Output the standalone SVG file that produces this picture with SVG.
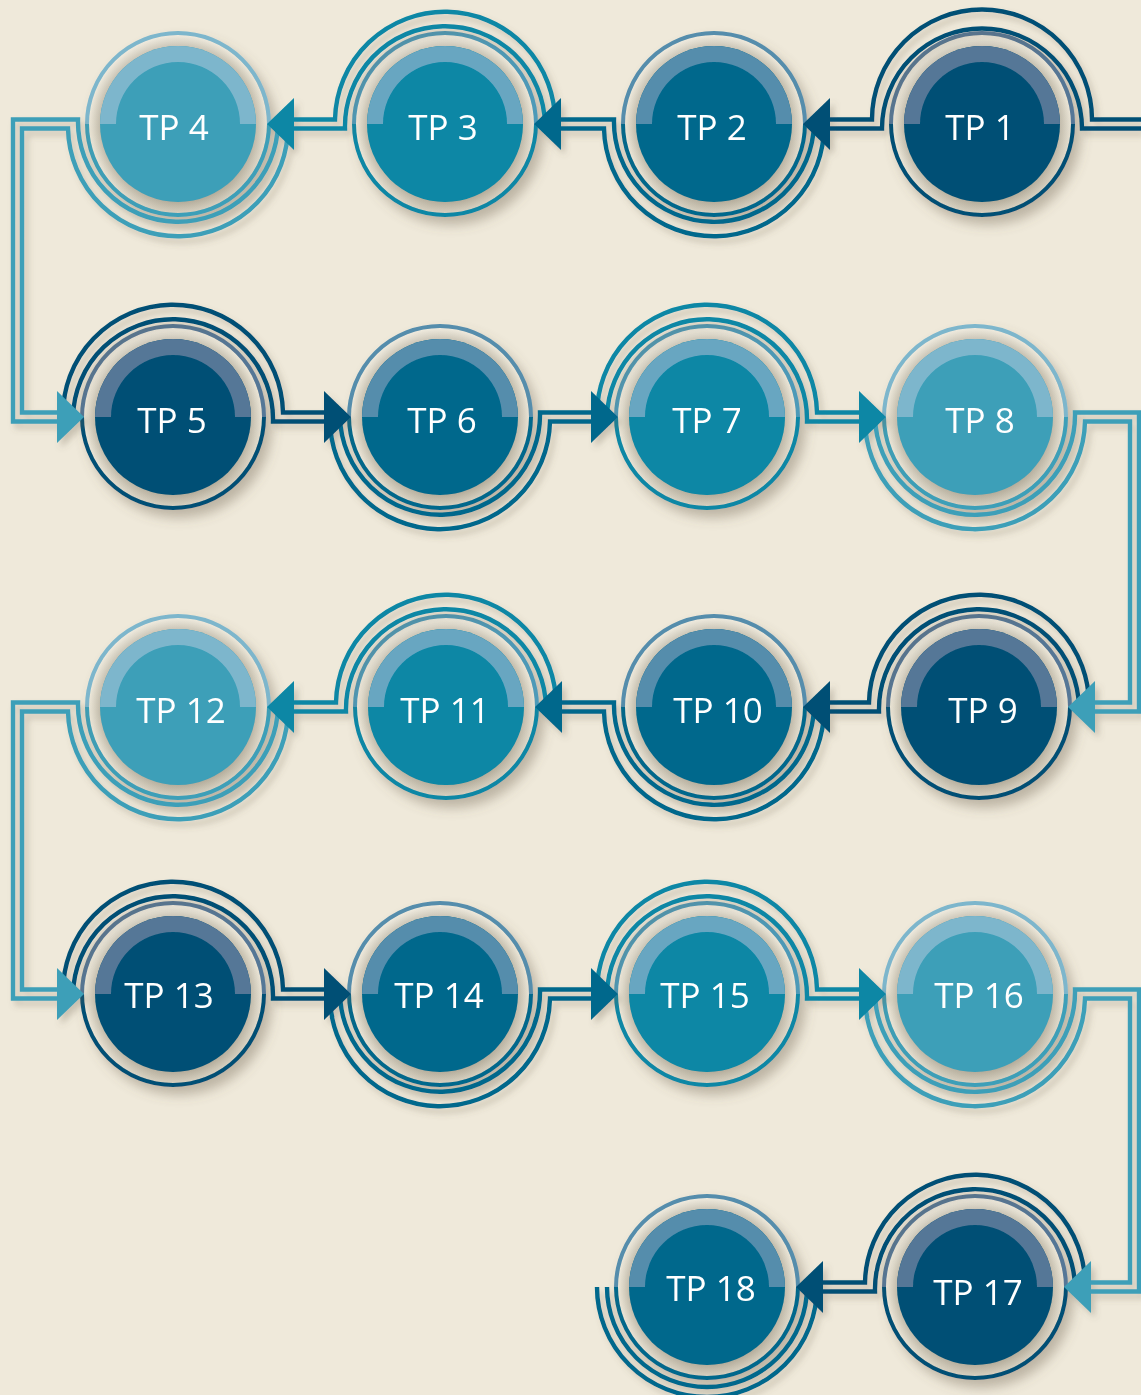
<svg xmlns="http://www.w3.org/2000/svg" width="1141" height="1395" viewBox="0 0 1141 1395">
<defs>
<style>
.node{filter:url(#nsh)}
.node text{font-family:"Open Sans","Noto Sans","Liberation Sans",sans-serif;font-size:35px;fill:#ffffff;text-anchor:middle}
.ring{fill:none;stroke-width:4}
.m1{fill:#005075}.m2{fill:#00688c}.m3{fill:#0887a5}.m4{fill:#3c9fb8}
.b1{fill:#557797}.b2{fill:#548dac}.b3{fill:#67a6c1}.b4{fill:#7db6cc}
.r1{stroke:url(#g1)}.r2{stroke:url(#g2)}.r3{stroke:url(#g3)}.r4{stroke:url(#g4)}
.pipe path{fill:none;stroke-width:4.4}
.s1{stroke:#005075}.s2{stroke:#00688c}.s3{stroke:#0887a5}.s4{stroke:#3c9fb8}
.a1{fill:#005075}.a2{fill:#00688c}.a3{fill:#0887a5}.a4{fill:#3c9fb8}
</style>
<filter id="nsh" x="-30%" y="-30%" width="170%" height="170%">
<feDropShadow dx="6" dy="8" stdDeviation="6" flood-color="#6b604c" flood-opacity="0.38"/>
</filter>
<filter id="csh" x="-5%" y="-5%" width="115%" height="115%">
<feDropShadow dx="4" dy="5" stdDeviation="3" flood-color="#6b604c" flood-opacity="0.28"/>
</filter>
<radialGradient id="rim" cx="0.5" cy="0.5" r="0.5">
<stop offset="0.86" stop-color="#bdb6a5"/>
<stop offset="0.94" stop-color="#d8d2c2"/>
<stop offset="1" stop-color="#ece6d7"/>
</radialGradient>
<linearGradient id="shade" x1="0" y1="0" x2="0.3" y2="1">
<stop offset="0" stop-color="#ffffff" stop-opacity="0.25"/>
<stop offset="0.5" stop-color="#ffffff" stop-opacity="0"/>
<stop offset="1" stop-color="#7d735f" stop-opacity="0.2"/>
</linearGradient>
<linearGradient id="g1" x1="0" y1="0" x2="0" y2="1"><stop offset="0.5" stop-color="#557797"/><stop offset="0.5" stop-color="#005075"/></linearGradient>
<linearGradient id="g2" x1="0" y1="0" x2="0" y2="1"><stop offset="0.5" stop-color="#548dac"/><stop offset="0.5" stop-color="#00688c"/></linearGradient>
<linearGradient id="g3" x1="0" y1="0" x2="0" y2="1"><stop offset="0.5" stop-color="#4d9ab8"/><stop offset="0.5" stop-color="#0887a5"/></linearGradient>
<linearGradient id="g4" x1="0" y1="0" x2="0" y2="1"><stop offset="0.5" stop-color="#7db6cc"/><stop offset="0.5" stop-color="#3c9fb8"/></linearGradient>
<g id="body1"><circle r="89" fill="url(#rim)"/><circle r="89" fill="url(#shade)"/><circle r="91" class="ring r1"/><circle r="78" class="m1"/><path d="M-78,0 A78,78 0 0 1 78,0 H62 A62,62 0 0 0 -62,0 Z" class="b1"/></g>
<g id="body2"><circle r="89" fill="url(#rim)"/><circle r="89" fill="url(#shade)"/><circle r="91" class="ring r2"/><circle r="78" class="m2"/><path d="M-78,0 A78,78 0 0 1 78,0 H62 A62,62 0 0 0 -62,0 Z" class="b2"/></g>
<g id="body3"><circle r="89" fill="url(#rim)"/><circle r="89" fill="url(#shade)"/><circle r="91" class="ring r3"/><circle r="78" class="m3"/><path d="M-78,0 A78,78 0 0 1 78,0 H62 A62,62 0 0 0 -62,0 Z" class="b3"/></g>
<g id="body4"><circle r="89" fill="url(#rim)"/><circle r="89" fill="url(#shade)"/><circle r="91" class="ring r4"/><circle r="78" class="m4"/><path d="M-78,0 A78,78 0 0 1 78,0 H62 A62,62 0 0 0 -62,0 Z" class="b4"/></g>
</defs>
<rect width="1141" height="1395" fill="#efe9da"/>

<g id="nodes">
<g id="tp1" class="node" transform="translate(982,124)"><use href="#body1"/><text x="-2" y="16">TP 1</text></g>
<g id="tp2" class="node" transform="translate(714,124)"><use href="#body2"/><text x="-2" y="16">TP 2</text></g>
<g id="tp3" class="node" transform="translate(445,124)"><use href="#body3"/><text x="-2" y="16">TP 3</text></g>
<g id="tp4" class="node" transform="translate(178,124)"><use href="#body4"/><text x="-4" y="16">TP 4</text></g>
<g id="tp5" class="node" transform="translate(173,417)"><use href="#body1"/><text x="-1" y="16">TP 5</text></g>
<g id="tp6" class="node" transform="translate(440,417)"><use href="#body2"/><text x="2" y="16">TP 6</text></g>
<g id="tp7" class="node" transform="translate(707,417)"><use href="#body3"/><text x="0" y="16">TP 7</text></g>
<g id="tp8" class="node" transform="translate(975,417)"><use href="#body4"/><text x="5" y="16">TP 8</text></g>
<g id="tp9" class="node" transform="translate(979,707)"><use href="#body1"/><text x="4" y="16">TP 9</text></g>
<g id="tp10" class="node" transform="translate(714,707)"><use href="#body2"/><text x="4" y="16">TP 10</text></g>
<g id="tp11" class="node" transform="translate(446,707)"><use href="#body3"/><text x="-1" y="16">TP 11</text></g>
<g id="tp12" class="node" transform="translate(178,707)"><use href="#body4"/><text x="3" y="16">TP 12</text></g>
<g id="tp13" class="node" transform="translate(173,994)"><use href="#body1"/><text x="-4" y="14">TP 13</text></g>
<g id="tp14" class="node" transform="translate(440,994)"><use href="#body2"/><text x="-1" y="14">TP 14</text></g>
<g id="tp15" class="node" transform="translate(707,994)"><use href="#body3"/><text x="-2" y="14">TP 15</text></g>
<g id="tp16" class="node" transform="translate(975,994)"><use href="#body4"/><text x="4" y="14">TP 16</text></g>
<g id="tp17" class="node" transform="translate(975,1287)"><use href="#body1"/><text x="3" y="18">TP 17</text></g>
<g id="tp18" class="node" transform="translate(707,1287)"><use href="#body2"/><text x="4" y="14">TP 18</text></g>
</g>

<g id="connectors" filter="url(#csh)">
<g class="pipe">
<path class="s1" d="M1141,119.5 H1092 A110,110 0 0 0 872,119.5 H826"/>
<path class="s1" d="M1141,128.5 H1082 A100,100 0 1 0 882,128.5 H826"/>
<path class="s2" d="M824,124 A110,110 0 0 1 604,128.5 H557"/>
<path class="s2" d="M814,124 A100,100 0 1 1 614,119.5 H557"/>
<path class="s3" d="M555,124 A110,110 0 0 0 335,119.5 H290"/>
<path class="s3" d="M545,124 A100,100 0 1 0 345,128.5 H290"/>
<path class="s4" d="M288,124 A110,110 0 0 1 68,128.5 H22 V412.5 H60"/>
<path class="s4" d="M278,124 A100,100 0 1 1 78,119.5 H13 V421.5 H60"/>
<path class="s1" d="M63,417 A110,110 0 0 1 283,412.5 H328"/>
<path class="s1" d="M73,417 A100,100 0 1 1 273,421.5 H328"/>
<path class="s2" d="M330,417 A110,110 0 0 0 550,421.5 H595"/>
<path class="s2" d="M340,417 A100,100 0 1 0 540,412.5 H595"/>
<path class="s3" d="M597,417 A110,110 0 0 1 817,412.5 H863"/>
<path class="s3" d="M607,417 A100,100 0 1 1 807,421.5 H863"/>
<path class="s4" d="M865,417 A110,110 0 0 0 1085,421.5 H1130 V702.5 H1091"/>
<path class="s4" d="M875,417 A100,100 0 1 0 1075,412.5 H1139 V711.5 H1091"/>
<path class="s1" d="M1089,707 A110,110 0 0 0 869,702.5 H826"/>
<path class="s1" d="M1079,707 A100,100 0 1 0 879,711.5 H826"/>
<path class="s2" d="M824,707 A110,110 0 0 1 604,711.5 H558"/>
<path class="s2" d="M814,707 A100,100 0 1 1 614,702.5 H558"/>
<path class="s3" d="M556,707 A110,110 0 0 0 336,702.5 H290"/>
<path class="s3" d="M546,707 A100,100 0 1 0 346,711.5 H290"/>
<path class="s4" d="M288,707 A110,110 0 0 1 68,711.5 H22 V989.5 H60"/>
<path class="s4" d="M278,707 A100,100 0 1 1 78,702.5 H13 V998.5 H60"/>
<path class="s1" d="M63,994 A110,110 0 0 1 283,989.5 H328"/>
<path class="s1" d="M73,994 A100,100 0 1 1 273,998.5 H328"/>
<path class="s2" d="M330,994 A110,110 0 0 0 550,998.5 H595"/>
<path class="s2" d="M340,994 A100,100 0 1 0 540,989.5 H595"/>
<path class="s3" d="M597,994 A110,110 0 0 1 817,989.5 H863"/>
<path class="s3" d="M607,994 A100,100 0 1 1 807,998.5 H863"/>
<path class="s4" d="M865,994 A110,110 0 0 0 1085,998.5 H1130 V1282.5 H1087"/>
<path class="s4" d="M875,994 A100,100 0 1 0 1075,989.5 H1139 V1291.5 H1087"/>
<path class="s1" d="M1085,1287 A110,110 0 0 0 865,1282.5 H819"/>
<path class="s1" d="M1075,1287 A100,100 0 1 0 875,1291.5 H819"/>
<path class="s2" d="M817,1287 A110,110 0 0 1 597,1287"/>
<path class="s2" d="M807,1287 A100,100 0 0 1 607,1287"/>
</g>
<g class="arrows">
<polygon class="a1" points="803,124 830,98 830,150"/>
<polygon class="a2" points="534,124 561,98 561,150"/>
<polygon class="a3" points="267,124 294,98 294,150"/>
<polygon class="a4" points="84,417 57,391 57,443"/>
<polygon class="a1" points="351,417 324,391 324,443"/>
<polygon class="a2" points="618,417 591,391 591,443"/>
<polygon class="a3" points="886,417 859,391 859,443"/>
<polygon class="a4" points="1068,707 1095,681 1095,733"/>
<polygon class="a1" points="803,707 830,681 830,733"/>
<polygon class="a2" points="535,707 562,681 562,733"/>
<polygon class="a3" points="267,707 294,681 294,733"/>
<polygon class="a4" points="84,994 57,968 57,1020"/>
<polygon class="a1" points="351,994 324,968 324,1020"/>
<polygon class="a2" points="618,994 591,968 591,1020"/>
<polygon class="a3" points="886,994 859,968 859,1020"/>
<polygon class="a4" points="1064,1287 1091,1261 1091,1313"/>
<polygon class="a1" points="796,1287 823,1261 823,1313"/>
</g>
</g>
</svg>
